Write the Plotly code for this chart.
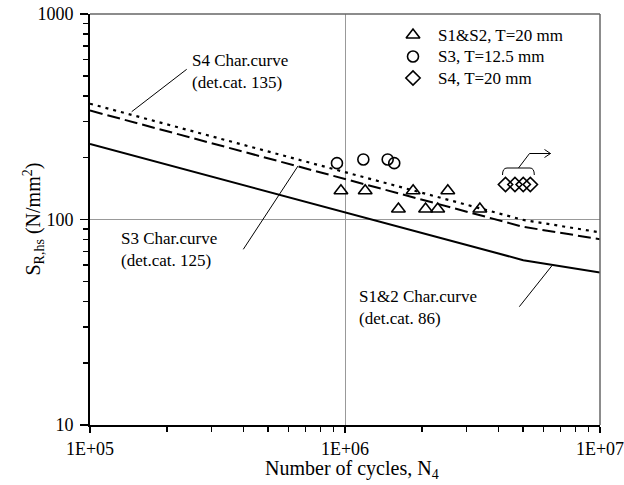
import plotly.graph_objects as go

# ---- data ----
curve_N = [1e5, 5e6, 1e7]
s12_curve = [233, 63.4, 55.2]     # S1&2 char. curve (det.cat. 86)
s3_curve = [339, 92.1, 80.2]      # S3 char. curve (det.cat. 125)
s4_curve = [366, 99.5, 86.6]      # S4 char. curve (det.cat. 135)

s12_N = [9.64e5, 1.2e6, 1.85e6, 2.53e6, 1.62e6, 2.07e6, 2.31e6, 3.38e6]
s12_S = [138, 138, 138, 138, 112.5, 112.5, 112.5, 112.5]
s3_N = [9.3e5, 1.18e6, 1.47e6, 1.56e6]
s3_S = [188, 196, 196, 188]
s4_N = [4.26e6, 4.64e6, 5.0e6, 5.33e6]
s4_S = [148, 148, 148, 148]

series_names = ["S1&S2, T=20 mm", "S3, T=12.5 mm", "S4, T=20 mm"]
series_symbols = ["triangle-up-open", "circle-open", "diamond-open"]

x_tickvals = [1e5, 1e6, 1e7]
x_ticktext = ["1E+05", "1E+06", "1E+07"]
y_tickvals = [10, 100, 1000]
y_ticktext = ["10", "100", "1000"]

FONT = "Liberation Serif, Times New Roman, serif"

W, H = 624, 485
L, R, T, B = 90, 600, 14, 425   # plot area in pixels


def px(xp):
    return (xp - L) / (R - L)


def py(yp):
    return (B - yp) / (B - T)


fig = go.Figure()

fig.add_trace(go.Scatter(x=curve_N, y=s12_curve, mode="lines",
                         line=dict(color="black", width=2), showlegend=False))
fig.add_trace(go.Scatter(x=curve_N, y=s3_curve, mode="lines",
                         line=dict(color="black", width=2, dash="13px,5px"), showlegend=False))
fig.add_trace(go.Scatter(x=curve_N, y=s4_curve, mode="lines",
                         line=dict(color="black", width=2.2, dash="3px,5px"), showlegend=False))

sizes = [12, 11, 11]
for xs, ys, nm, sym, sz in zip([s12_N, s3_N, s4_N], [s12_S, s3_S, s4_S],
                               series_names, series_symbols, sizes):
    fig.add_trace(go.Scatter(x=xs, y=ys, mode="markers", name=nm, showlegend=False,
                             marker=dict(symbol=sym, size=sz, color="black",
                                         line=dict(color="black", width=1.6))))

# manual legend keys (overlay axes in plot-fraction units)
leg_rows = [35, 56.5, 78]
for nm, sym, sz, ry in zip(series_names, series_symbols, sizes, leg_rows):
    fig.add_trace(go.Scatter(x=[px(413)], y=[py(ry)], xaxis="x2", yaxis="y2",
                             mode="markers", showlegend=False, hoverinfo="skip",
                             marker=dict(symbol=sym, size=sz, color="black",
                                         line=dict(color="black", width=1.6))))

minor_x = [k * 10 ** e for e in (5, 6) for k in range(2, 10)]
minor_y = [k * 10 ** e for e in (1, 2) for k in range(2, 10)]

fig.update_layout(
    xaxis=dict(type="log", range=[5, 7], tickvals=x_tickvals, ticktext=x_ticktext,
               ticks="outside", ticklen=6, tickwidth=1.5, tickcolor="black",
               showline=True, linecolor="black", linewidth=2, automargin=False,
               ticklabeloverflow="allow",
               showgrid=True, gridcolor="#999999", gridwidth=1, zeroline=False,
               tickfont=dict(family=FONT, size=18, color="black"),
               minor=dict(tickvals=minor_x, ticks="outside", ticklen=5,
                          tickwidth=1.5, tickcolor="black", showgrid=False)),
    yaxis=dict(type="log", range=[1, 3], tickvals=y_tickvals, ticktext=y_ticktext,
               ticks="outside", ticklen=8, tickwidth=1.5, tickcolor="black",
               showline=True, linecolor="black", linewidth=2, automargin=False,
               ticklabeloverflow="allow",
               showgrid=True, gridcolor="#999999", gridwidth=1, zeroline=False,
               ticklabelstandoff=3,
               tickfont=dict(family=FONT, size=18, color="black"),
               minor=dict(tickvals=minor_y, ticks="outside", ticklen=5,
                          tickwidth=1.5, tickcolor="black", showgrid=False)),
    xaxis2=dict(overlaying="x", range=[0, 1], visible=False, automargin=False),
    yaxis2=dict(overlaying="y", range=[0, 1], visible=False, automargin=False),
)

shapes = [
    # top and right frame (gray)
    dict(type="line", xref="paper", yref="paper", x0=0, x1=1, y0=1, y1=1,
         line=dict(color="#666666", width=1.5), layer="above"),
    dict(type="line", xref="paper", yref="paper", x0=1, x1=1, y0=0, y1=1,
         line=dict(color="#666666", width=1.5), layer="above"),
    # leader lines
    dict(type="line", xref="paper", yref="paper", x0=px(186.7), y0=py(69.3),
         x1=px(131.7), y1=py(111.7), line=dict(color="black", width=1)),
    dict(type="line", xref="paper", yref="paper", x0=px(243.3), y0=py(249.3),
         x1=px(298), y1=py(166), line=dict(color="black", width=1)),
    dict(type="line", xref="paper", yref="paper", x0=px(519.3), y0=py(306.7),
         x1=px(551.7), y1=py(266), line=dict(color="black", width=1)),
]

# bracket + arrow over the S4 points
bracket = (f"M {px(502.5)},{py(175)} Q {px(502.5)},{py(168)} {px(507)},{py(168)} "
           f"L {px(530)},{py(168)} Q {px(534.3)},{py(168)} {px(534.3)},{py(175)}")
shapes.append(dict(type="path", xref="paper", yref="paper", path=bracket,
                   line=dict(color="black", width=1)))
arrow = f"M {px(518.5)},{py(168)} L {px(529.5)},{py(153.5)} L {px(550.5)},{py(153.5)}"
shapes.append(dict(type="path", xref="paper", yref="paper", path=arrow,
                   line=dict(color="black", width=1)))
head = f"M {px(544.5)},{py(149.5)} L {px(550.5)},{py(153.5)} L {px(544.5)},{py(157.5)}"
shapes.append(dict(type="path", xref="paper", yref="paper", path=head,
                   line=dict(color="black", width=1)))

afont = dict(family=FONT, size=17, color="black")
annotations = [
    dict(text="S4 Char.curve<br>(det.cat. 135)", x=px(190), y=py(71), xref="paper", yref="paper",
         xanchor="left", yanchor="middle", align="left", showarrow=False, font=afont),
    dict(text="S3 Char.curve<br>(det.cat. 125)", x=px(119), y=py(250), xref="paper", yref="paper",
         xanchor="left", yanchor="middle", align="left", showarrow=False, font=afont),
    dict(text="S1&2 Char.curve<br>(det.cat. 86)", x=px(357), y=py(307), xref="paper", yref="paper",
         xanchor="left", yanchor="middle", align="left", showarrow=False, font=afont),
    dict(text="S<sub>R,hs</sub> (N/mm<sup>2</sup>)", x=px(33), y=0.5, xref="paper", yref="paper",
         xanchor="center", yanchor="middle", textangle=-90, showarrow=False,
         font=dict(family=FONT, size=20, color="black")),
    dict(text="Number of cycles, N<sub>4</sub>", x=px(352), y=py(469), xref="paper", yref="paper",
         xanchor="center", yanchor="middle", showarrow=False,
         font=dict(family=FONT, size=20, color="black")),
]
for nm, ry in zip(series_names, leg_rows):
    annotations.append(dict(text=nm, x=px(436), y=py(ry), xref="paper", yref="paper",
                            xanchor="left", yanchor="middle", showarrow=False, font=afont))

fig.update_layout(
    width=W, height=H,
    margin=dict(l=L, r=W - R, t=T, b=H - B),
    paper_bgcolor="white", plot_bgcolor="white",
    shapes=shapes, annotations=annotations,
    showlegend=False,
    font=dict(family=FONT, color="black"),
)

fig.write_html("out.html",
               config={"displayModeBar": False, "staticPlot": True},
               post_script="document.body.style.margin='0';document.body.style.overflow='hidden';")
